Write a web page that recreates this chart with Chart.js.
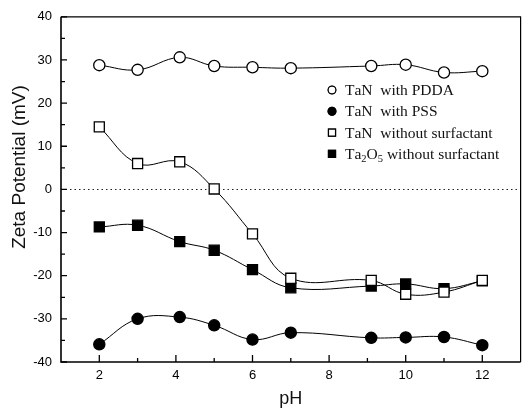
<!DOCTYPE html>
<html>
<head>
<meta charset="utf-8">
<script src="https://cdn.jsdelivr.net/npm/chart.js@4.4.1/dist/chart.umd.min.js"></script>
<style>
  html, body { margin: 0; padding: 0; background: #fff; }
</style>
</head>
<body>
<canvas id="zetaChart" width="529" height="410"></canvas>
<script>
// pH values for every series
const phValues = [2, 3, 4.1, 5, 6, 7, 9.1, 10, 11, 12];

// zeta potential (mV)
const tanPdda = [28.8, 27.7, 30.6, 28.6, 28.3, 28.1, 28.6, 28.9, 27.1, 27.4];
const tanPss = [-35.9, -30.0, -29.6, -31.5, -34.8, -33.2, -34.4, -34.3, -34.2, -36.1];
const tanBare = [14.5, 6.0, 6.4, 0.1, -10.3, -20.6, -21.1, -24.3, -23.8, -21.1];
const ta2o5Bare = [-8.7, -8.3, -12.1, -14.1, -18.6, -22.8, -22.4, -21.9, -23.0, -21.2];

const seriesLabels = ['TaN  with PDDA', 'TaN  with PSS', 'TaN  without surfactant', 'Ta₂O₅ without surfactant'];

const xTicks = [2, 4, 6, 8, 10, 12];
const xMinor = [3, 5, 7, 9, 11];
const yTicks = [-40, -30, -20, -10, 0, 10, 20, 30, 40];
const yMinor = [-35, -25, -15, -5, 5, 15, 25, 35];

const sans = "'Liberation Sans', Arial, sans-serif";
const serif = "'Liberation Serif', 'Times New Roman', serif";

function pts(vals) {
    return phValues.map((x, i) => ({ x, y: vals[i] }));
}

function series(label, vals, style, fillCol, order) {
    return {
        label,
        data: pts(vals),
        borderColor: '#000',
        backgroundColor: fillCol,
        borderWidth: 1,
        pointStyle: style,
        pointRadius: style === 'rect' ? 7.1 : 5.6,
        pointBorderWidth: 1.3,
        tension: 0.4,
        fill: false,
        order
    };
}

// text with unicode subscript digits drawn as small lowered digits
const subs = { '₀': '0', '₁': '1', '₂': '2', '₃': '3', '₄': '4', '₅': '5' };
function drawRich(ctx, text, x, y) {
    for (const ch of text) {
        if (subs[ch]) {
            ctx.font = '10.5px ' + serif;
            ctx.fillText(subs[ch], x, y + 4);
            x += ctx.measureText(subs[ch]).width;
        } else {
            ctx.font = '15.5px ' + serif;
            ctx.fillText(ch, x, y);
            x += ctx.measureText(ch).width;
        }
    }
}

const framePlugin = {
    id: 'frame',
    beforeDatasetsDraw(chart) {
        const { ctx, chartArea: a, scales: { y } } = chart;
        const y0 = Math.round(y.getPixelForValue(0)) + 0.5;
        ctx.save();
        ctx.strokeStyle = '#222';
        ctx.lineWidth = 1;
        ctx.setLineDash([1.5, 3]);
        ctx.beginPath();
        ctx.moveTo(a.left, y0);
        ctx.lineTo(a.right, y0);
        ctx.stroke();
        ctx.restore();
    },
    afterDatasetsDraw(chart) {
        const { ctx, chartArea: a, scales: { x, y } } = chart;
        ctx.save();
        ctx.strokeStyle = '#000';
        // top and right border
        ctx.lineWidth = 1.2;
        ctx.beginPath();
        ctx.moveTo(a.left, a.top);
        ctx.lineTo(a.right, a.top);
        ctx.lineTo(a.right, a.bottom);
        ctx.stroke();
        // axes
        ctx.lineWidth = 1.6;
        ctx.beginPath();
        ctx.moveTo(a.left, a.top);
        ctx.lineTo(a.left, a.bottom);
        ctx.lineTo(a.right, a.bottom);
        ctx.stroke();
        // inward ticks
        ctx.lineWidth = 1.3;
        ctx.beginPath();
        xTicks.forEach(v => { const px = x.getPixelForValue(v); ctx.moveTo(px, a.bottom); ctx.lineTo(px, a.bottom - 7); });
        xMinor.forEach(v => { const px = x.getPixelForValue(v); ctx.moveTo(px, a.bottom); ctx.lineTo(px, a.bottom - 4); });
        yTicks.forEach(v => { const py = y.getPixelForValue(v); ctx.moveTo(a.left, py); ctx.lineTo(a.left + 6, py); });
        yMinor.forEach(v => { const py = y.getPixelForValue(v); ctx.moveTo(a.left, py); ctx.lineTo(a.left + 4, py); });
        ctx.stroke();
        ctx.restore();
    },
    afterDraw(chart) {
        const { ctx, chartArea: a } = chart;
        ctx.save();
        ctx.fillStyle = '#111';
        // axis titles
        ctx.font = '18px ' + sans;
        ctx.textAlign = 'center';
        ctx.textBaseline = 'alphabetic';
        ctx.fillText('pH', (a.left + a.right) / 2, 404);
        ctx.translate(25, 167);
        ctx.rotate(-Math.PI / 2);
        ctx.font = '19px ' + sans;
        ctx.fillText('Zeta Potential (mV)', 0, 0);
        ctx.restore();

        // legend inside the plot
        ctx.save();
        ctx.textAlign = 'left';
        ctx.textBaseline = 'middle';
        chart.data.datasets.forEach((ds, i) => {
            const ly = 90 + i * 21.3;
            Chart.helpers.drawPoint(ctx, {
                pointStyle: ds.pointStyle,
                radius: ds.pointStyle === 'rect' ? 5 : 3.9,
                borderWidth: 1.2
            }, 332, ly);
            ctx.fillStyle = ds.backgroundColor;
            ctx.strokeStyle = '#000';
            ctx.lineWidth = 1.2;
            ctx.fill();
            ctx.stroke();
            ctx.fillStyle = '#111';
            drawRich(ctx, ds.label, 345, ly + 1);
        });
        ctx.restore();
    }
};

new Chart(document.getElementById('zetaChart').getContext('2d'), {
    type: 'line',
    data: {
        datasets: [
            series(seriesLabels[0], tanPdda, 'circle', '#fff', 3),
            series(seriesLabels[1], tanPss, 'circle', '#000', 2),
            series(seriesLabels[2], tanBare, 'rect', '#fff', 0),
            series(seriesLabels[3], ta2o5Bare, 'rect', '#000', 1)
        ]
    },
    options: {
        responsive: false,
        devicePixelRatio: 1,
        animation: false,
        layout: { padding: { top: 13, right: 2, left: 0, bottom: 0 } },
        plugins: { legend: { display: false }, tooltip: { enabled: false } },
        scales: {
            x: {
                type: 'linear',
                min: 1,
                max: 13,
                grid: { display: false, drawTicks: false },
                border: { display: false },
                afterBuildTicks: s => { s.ticks = xTicks.map(v => ({ value: v })); },
                afterFit: s => { s.height = 48; },
                ticks: { color: '#000', padding: 6, font: { family: sans, size: 13 } }
            },
            y: {
                min: -40,
                max: 40,
                grid: { display: false, drawTicks: false },
                border: { display: false },
                afterBuildTicks: s => { s.ticks = yTicks.map(v => ({ value: v })); },
                afterFit: s => { s.width = 61; },
                ticks: { color: '#000', padding: 9, font: { family: sans, size: 13 } }
            }
        }
    },
    plugins: [framePlugin]
});
</script>
</body>
</html>
